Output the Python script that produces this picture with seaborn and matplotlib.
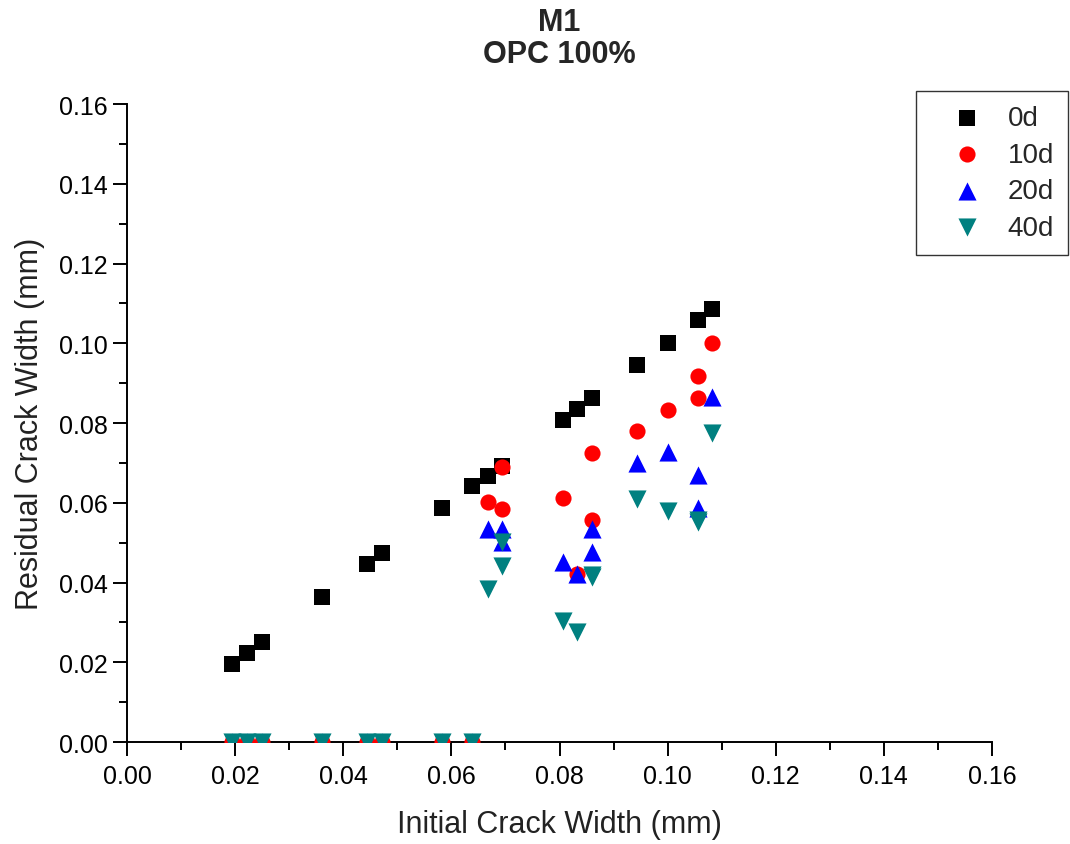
import numpy as np
import pandas as pd
import matplotlib
matplotlib.use("Agg")
import matplotlib.pyplot as plt
import seaborn as sns
from matplotlib.ticker import MultipleLocator, FormatStrFormatter

# ---- data ----
initial_width = [0.0194, 0.0222, 0.0250, 0.0361, 0.0444, 0.0472, 0.0583, 0.0639,
                 0.0667, 0.0694, 0.0694, 0.0806, 0.0833, 0.0861, 0.0861,
                 0.0944, 0.1000, 0.1056, 0.1056, 0.1083]
res_0d = [0.0196, 0.0223, 0.0251, 0.0364, 0.0446, 0.0474, 0.0587, 0.0642,
          0.0667, 0.0692, 0.0692, 0.0807, 0.0835, 0.0863, 0.0863,
          0.0945, 0.1001, 0.1058, 0.1058, 0.1086]
res_10d = [0, 0, 0, 0, 0, 0, 0, 0,
           0.0601, 0.0689, 0.0584, 0.0612, 0.0421, 0.0724, 0.0557,
           0.0779, 0.0833, 0.0917, 0.0862, 0.1000]
res_20d = [0, 0, 0, 0, 0, 0, 0, 0,
           0.0534, 0.0534, 0.0501, 0.0451, 0.0421, 0.0534, 0.0477,
           0.0699, 0.0728, 0.0670, 0.0586, 0.0866]
res_40d = [0, 0, 0, 0, 0, 0, 0, 0,
           0.0384, 0.0501, 0.0442, 0.0304, 0.0276, 0.0413, 0.0418,
           0.0609, 0.0579, 0.0553, 0.0556, 0.0775]
series_labels = ["0d", "10d", "20d", "40d"]
series_values = [res_0d, res_10d, res_20d, res_40d]
colors = {"0d": "#000000", "10d": "#FF0000", "20d": "#0000FF", "40d": "#008080"}
markers = {"0d": "s", "10d": "o", "20d": "^", "40d": "v"}
sizes = {"0d": 120, "10d": 135, "20d": 170, "40d": 170}
title_text = "M1\nOPC 100%"
xlabel_text = "Initial Crack Width (mm)"
ylabel_text = "Residual Crack Width (mm)"

rows = []
for lab, vals in zip(series_labels, series_values):
    for x, y in zip(initial_width, vals):
        rows.append({"x": x, "y": y, "age": lab})
df = pd.DataFrame(rows)

sns.set_theme(style="ticks")
plt.rcParams["font.family"] = ["Liberation Sans", "DejaVu Sans"]
plt.rcParams["axes.linewidth"] = 1.4

fig = plt.figure(figsize=(10.7, 8.45), dpi=100)
ax = fig.add_axes([0.1187, 0.1207, 0.9271 - 0.1187, 0.8757 - 0.1207])

for lab in series_labels:
    sub = df[df["age"] == lab]
    sns.scatterplot(data=sub, x="x", y="y", color=colors[lab], marker=markers[lab],
                    s=sizes[lab], linewidth=0, ax=ax, label=lab, zorder=3)

ax.set_xlim(0, 0.16)
ax.set_ylim(0, 0.16)
ax.xaxis.set_major_locator(MultipleLocator(0.02))
ax.yaxis.set_major_locator(MultipleLocator(0.02))
ax.xaxis.set_minor_locator(MultipleLocator(0.01))
ax.yaxis.set_minor_locator(MultipleLocator(0.01))
ax.xaxis.set_major_formatter(FormatStrFormatter("%.2f"))
ax.yaxis.set_major_formatter(FormatStrFormatter("%.2f"))
ax.tick_params(which="major", direction="out", length=10, width=1.4,
               labelsize=18, pad=4, colors="black")
ax.tick_params(axis="x", which="major", pad=6)
ax.tick_params(which="minor", direction="out", length=5.5, width=1.4, colors="black")
sns.despine(ax=ax)
for sp in ["left", "bottom"]:
    ax.spines[sp].set_color("black")

ax.set_xlabel(xlabel_text, fontsize=22, labelpad=15, color="#222222")
ax.set_ylabel(ylabel_text, fontsize=22, labelpad=10, color="#222222")
ax.set_title(title_text, fontsize=22, fontweight="bold", linespacing=1.1, pad=30)

leg = ax.legend(loc="upper right", bbox_to_anchor=(0.998, 0.891),
                bbox_transform=fig.transFigure, fontsize=20, frameon=True,
                fancybox=False, framealpha=1, edgecolor="#333333",
                handlelength=2.7, handletextpad=0.1, borderpad=0.5,
                labelspacing=0.38, borderaxespad=0)
leg.get_frame().set_linewidth(1.0)

fig.savefig("out.png", dpi=100)
